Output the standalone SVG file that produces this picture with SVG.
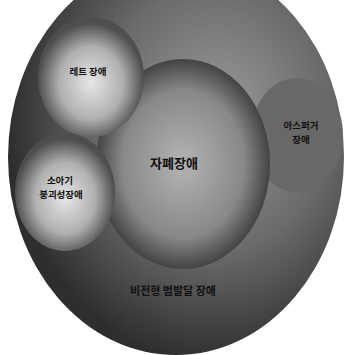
<svg xmlns="http://www.w3.org/2000/svg" width="344" height="355" viewBox="0 0 344 355">
<defs>
<radialGradient id="gBig" cx="0.62" cy="0.4" r="0.62">
<stop offset="0" stop-color="#9c9c9c"/>
<stop offset="0.55" stop-color="#6a6a6a"/>
<stop offset="1" stop-color="#2e2e2e"/>
</radialGradient>
<radialGradient id="gAut" cx="0.5" cy="0.5" r="0.5">
<stop offset="0" stop-color="#b4b4b4"/>
<stop offset="0.7" stop-color="#888888"/>
<stop offset="1" stop-color="#434343"/>
</radialGradient>
<radialGradient id="gSmall" cx="0.5" cy="0.55" r="0.5">
<stop offset="0" stop-color="#e6e6e6"/>
<stop offset="0.6" stop-color="#b0b0b0"/>
<stop offset="1" stop-color="#4e4e4e"/>
</radialGradient>
<style>
text{font-family:"Noto Sans CJK KR","Noto Sans",sans-serif;font-weight:bold;fill:#111;text-anchor:middle}
.s{font-size:9.5px}
</style>
</defs>
<rect width="344" height="355" fill="#ffffff"/>
<g id="pdd-nos">
<ellipse cx="176" cy="157" rx="168" ry="198" fill="url(#gBig)"/>
<text x="173" y="295" style="font-size:11px">비전형 범발달 장애</text>
</g>
<g id="asperger">
<ellipse cx="297" cy="135" rx="46" ry="57" fill="#686868"/>
<text class="s" x="301" y="128.5">아스퍼거</text>
<text class="s" x="301" y="142.5">장애</text>
</g>
<g id="autism">
<ellipse cx="183" cy="164" rx="87" ry="105" fill="url(#gAut)"/>
<text x="174" y="168" style="font-size:13px">자폐장애</text>
</g>
<g id="rett">
<ellipse cx="91" cy="77" rx="53" ry="60" fill="url(#gSmall)"/>
<text class="s" x="88" y="75">레트 장애</text>
</g>
<g id="cdd">
<ellipse cx="65" cy="192" rx="50" ry="59" fill="url(#gSmall)"/>
<text class="s" x="60" y="184">소아기</text>
<text class="s" x="61" y="198">붕괴성장애</text>
</g>
<g id="connectors"/>
</svg>
